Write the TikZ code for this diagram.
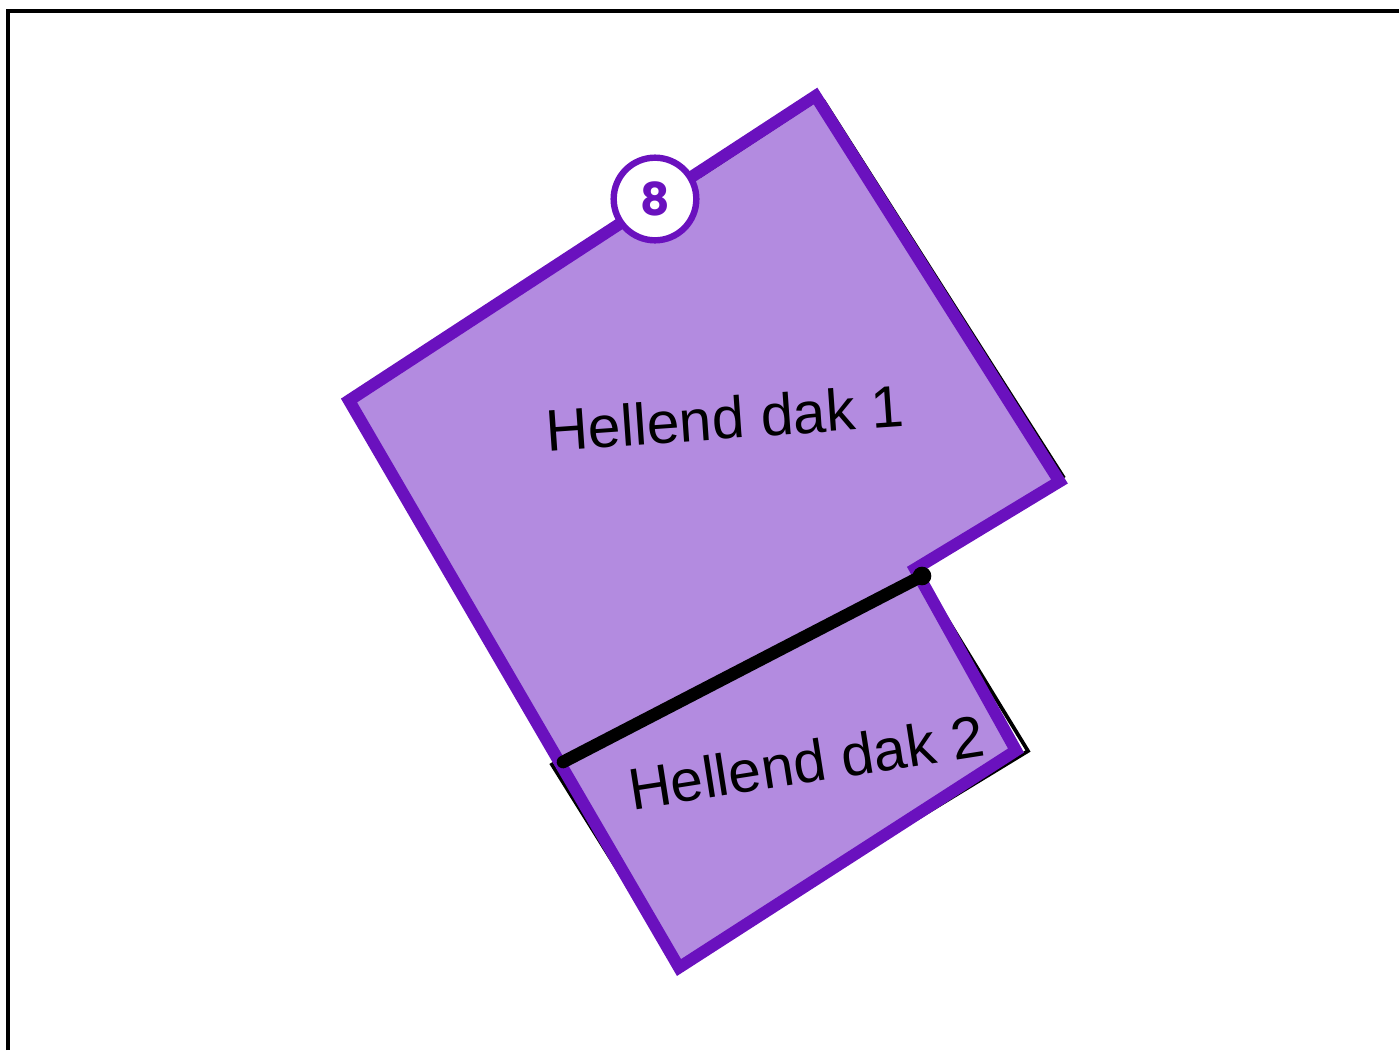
\documentclass[tikz,border=0pt]{standalone}
\usepackage{fontspec}
\setmainfont{Liberation Sans}
\newfontfamily\badgefont{Poppins}
\definecolor{roofline}{HTML}{6A11BE}
\definecolor{rooffill}{HTML}{B38BE0}
\tikzset{
  outline/.style={draw=black,line width=2.8pt,line join=miter},
  roof/.style={draw=roofline,line width=9pt,line join=miter,miter limit=10},
  rooflabel/.style={font=\fontsize{44}{50}\selectfont,inner sep=0pt,anchor=center},
  badge/.style={circle,draw=roofline,fill=white,line width=4.8pt,minimum size=62pt,inner sep=0pt,
    text=roofline,font=\badgefont\bfseries\fontsize{34}{35}\selectfont},
  enddot/.style={circle,fill=black,minimum size=14pt,inner sep=0pt}
}
\begin{document}
\begin{tikzpicture}[x=0.75pt,y=-0.75pt]
    \useasboundingbox (0,0) rectangle (1399,1050);

    \coordinate (frameb) at (8,1050);
    \coordinate (framec) at (8,11);
    \coordinate (framer) at (1399,11);
    \draw[line width=2.4pt] (frameb) -- (framec) -- (framer);

    % roof corners
    \coordinate (r1) at (815.5,96);
    \coordinate (r2) at (1059.5,481.5);
    \coordinate (r3) at (915,569);
    \coordinate (r4) at (1016,750.5);
    \coordinate (r5) at (679,967.5);
    \coordinate (r6) at (349,400.5);
    \fill[rooffill] (r1) -- (r2) -- (r3) -- (r4) -- (r5) -- (r6) -- cycle;

    % black outlines, they stick out from under the roof line
    \coordinate (o0) at (700,177);
    \coordinate (o1) at (816,101);
    \coordinate (o7) at (823,100);
    \coordinate (o2) at (1064,478);
    \coordinate (o6) at (921,576);
    \coordinate (o3) at (1028,751);
    \coordinate (o8) at (680,963);
    \coordinate (o4) at (679,968);
    \coordinate (o5) at (551,763);
    \draw[outline,line width=1.6pt] (o0) -- (o1);
    \draw[outline] (o7) -- (o2);
    \draw[outline] (o6) -- (o3) -- (o8);
    \draw[outline] (o4) -- (o5);

    \draw[roof] (r1) -- (r2) -- (r3) -- (r4) -- (r5) -- (r6) -- cycle;

    \node[rooflabel,rotate=4] (dak1) at (725,418) {Hellend dak 1};
    \node[rooflabel,rotate=8.9] (dak2) at (806,762) {Hellend dak 2};

    % ridge between the two parts
    \node[enddot] (ridgea) at (922,576) {};
    \coordinate (ridgeb) at (563,762);
    \draw[line width=9.5pt,line cap=round] (ridgea.center) -- (ridgeb);

    \node[badge] (num) at (655,199) {8};
\end{tikzpicture}
\end{document}
